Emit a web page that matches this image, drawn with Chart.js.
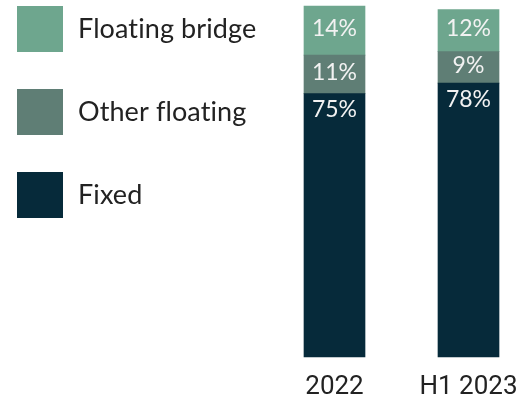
<!DOCTYPE html>
<html>
<head>
<meta charset="utf-8">
<script src="https://cdn.jsdelivr.net/npm/chart.js@4/dist/chart.umd.min.js"></script>
<style>
html,body{margin:0;padding:0;background:#fff;}
#wrap{position:relative;width:517px;height:398px;}
</style>
</head>
<body>
<div id="wrap"><canvas id="c" width="517" height="398"></canvas></div>
<script>
const categories = ["2022", "H1 2023"];
const fixed = [75, 78];
const otherFloating = [11, 9];
const floatingBridge = [14, 12];
const seriesNames = ["Fixed", "Other floating", "Floating bridge"];
const seriesColors = ["#062a3a", "#5f7e75", "#6ea68e"];

const labelFont = "Lato, 'Noto Sans', sans-serif";

const sideLegend = {
  id: 'sideLegend',
  afterDraw(chart) {
    const ctx = chart.ctx;
    const ds = chart.data.datasets.slice().reverse();
    ctx.save();
    ds.forEach((d, i) => {
      const top = 6 + i * 83;
      ctx.fillStyle = d.backgroundColor;
      ctx.fillRect(17, top, 46, 46);
      ctx.fillStyle = '#222';
      ctx.font = "27px " + labelFont;
      if ('letterSpacing' in ctx) ctx.letterSpacing = '0.1px';
      ctx.textBaseline = 'middle';
      ctx.textAlign = 'left';
      ctx.fillText(d.label, 78, top + 23);
    });
    ctx.restore();
  }
};

const barLabels = {
  id: 'barLabels',
  afterDatasetsDraw(chart) {
    const ctx = chart.ctx;
    ctx.save();
    ctx.fillStyle = '#f2f2f2';
    ctx.font = "23px " + labelFont;
    ctx.textAlign = 'center';
    ctx.textBaseline = 'middle';
    chart.data.datasets.forEach((d, di) => {
      const meta = chart.getDatasetMeta(di);
      meta.data.forEach((bar, i) => {
        const p = bar.getProps(['x', 'y', 'base'], true);
        const top = Math.min(p.y, p.base);
        const bottom = Math.max(p.y, p.base);
        const y = di === 0 ? top + 16 : (top + bottom) / 2 - 2;
        ctx.fillText(d.data[i] + '%', p.x, y);
      });
    });
    ctx.restore();
  }
};

new Chart(document.getElementById('c'), {
  type: 'bar',
  data: {
    labels: categories,
    datasets: [
      { label: seriesNames[0], data: fixed, backgroundColor: seriesColors[0] },
      { label: seriesNames[1], data: otherFloating, backgroundColor: seriesColors[1] },
      { label: seriesNames[2], data: floatingBridge, backgroundColor: seriesColors[2] }
    ]
  },
  options: {
    responsive: false,
    animation: false,
    devicePixelRatio: 1,
    datasets: { bar: { barThickness: 61, clip: false, borderWidth: 0 } },
    layout: { padding: { left: 334.5, right: 48.5, top: 6, bottom: -20 } },
    plugins: { legend: { display: false }, tooltip: { enabled: false } },
    scales: {
      x: {
        stacked: true,
        offset: false,
        afterFit(scale) { scale.paddingLeft = 0; scale.paddingRight = 0; },
        grid: { display: false, drawTicks: false },
        border: { display: false },
        ticks: { color: '#222', font: { family: 'Roboto', size: 26 }, padding: 15, maxRotation: 0, autoSkip: false }
      },
      y: {
        stacked: true,
        display: false,
        min: 0,
        max: 100
      }
    }
  },
  plugins: [sideLegend, barLabels]
});
</script>
</body>
</html>
